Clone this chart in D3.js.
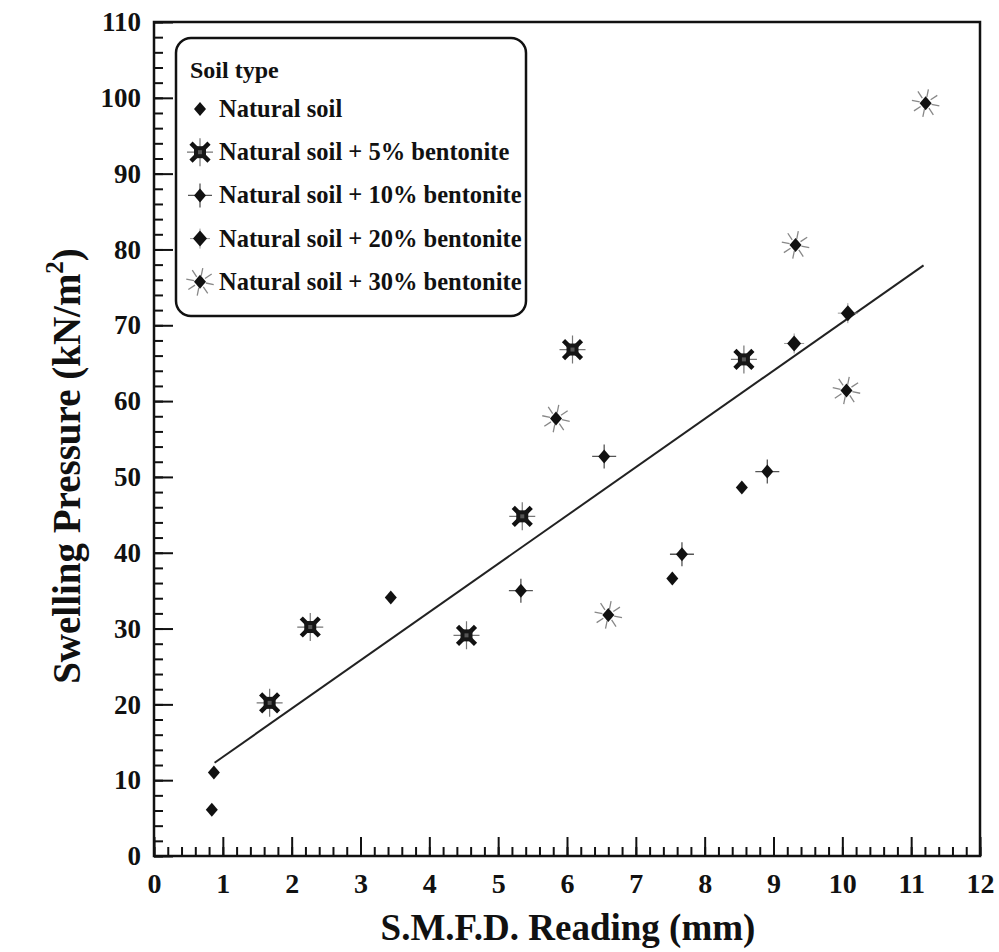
<!DOCTYPE html>
<html>
<head>
<meta charset="utf-8">
<script src="https://cdn.jsdelivr.net/npm/d3@7"></script>
<style>
    body { margin: 0; background: #fff; }
    text { font-family: "Liberation Serif", "Times New Roman", serif; font-weight: bold; fill: #111; }
</style>
</head>
<body>
<script>
//wrap everything in a self-executing anonymous function
(function(){

//data
var naturalX = [0.84, 0.87, 3.44, 7.53, 8.54];
var naturalY = [6.1, 11.0, 34.1, 36.6, 48.6];
var bent5X = [1.68, 2.27, 4.54, 5.35, 6.08, 8.57];
var bent5Y = [20.2, 30.2, 29.1, 44.8, 66.8, 65.5];
var bent10X = [5.33, 6.54, 7.67, 8.91];
var bent10Y = [35.0, 52.7, 39.8, 50.7];
var bent20X = [9.30, 10.08];
var bent20Y = [67.6, 71.6];
var bent30X = [5.84, 6.60, 9.32, 10.06, 11.21];
var bent30Y = [57.7, 31.8, 80.6, 61.4, 99.3];

//fitted line end points
var fitX = [0.88, 11.18];
var fitY = [12.3, 77.9];

var xTicks = [0, 1, 2, 3, 4, 5, 6, 7, 8, 9, 10, 11, 12];
var yTicks = [0, 10, 20, 30, 40, 50, 60, 70, 80, 90, 100, 110];

var seriesNames = ["Natural soil", "Natural soil + 5% bentonite", "Natural soil + 10% bentonite",
    "Natural soil + 20% bentonite", "Natural soil + 30% bentonite"];
var seriesKeys = ["nat", "b5", "b10", "b20", "b30"];

//frame
var width = 999,
    height = 952,
    left = 154, right = 980, top = 22, bottom = 856;

var svg = d3.select("body")
    .append("svg")
    .attr("width", width)
    .attr("height", height);

var x = d3.scaleLinear().domain([0, 12]).range([left, right]);
var y = d3.scaleLinear().domain([0, 110]).range([bottom, top]);

//minor ticks
var xMinor = d3.range(0, 12.001, 0.2).map(function(v){ return Math.round(v * 10) / 10; });
var yMinor = d3.range(0, 110.001, 2);

function styleTicks(g){
    g.select(".domain").remove();
    g.selectAll("line").attr("stroke", "#111").attr("stroke-width", 2);
}

//bottom axis, ticks point inward
svg.append("g")
    .attr("transform", "translate(0," + bottom + ")")
    .call(d3.axisBottom(x).tickValues(xMinor).tickSize(-9).tickFormat(""))
    .call(styleTicks);

svg.append("g")
    .attr("transform", "translate(0," + bottom + ")")
    .call(d3.axisBottom(x).tickValues(xTicks).tickSize(-19).tickPadding(17).tickFormat(d3.format("d")))
    .call(styleTicks)
    .call(function(g){
        g.selectAll("text").attr("font-size", 28).attr("font-family", "Liberation Serif").attr("font-weight", "bold").attr("fill", "#111");
    });

//left axis
svg.append("g")
    .attr("transform", "translate(" + left + ",0)")
    .call(d3.axisLeft(y).tickValues(yMinor).tickSize(-9).tickFormat(""))
    .call(styleTicks);

svg.append("g")
    .attr("transform", "translate(" + left + ",0)")
    .call(d3.axisLeft(y).tickValues(yTicks).tickSize(-19).tickPadding(13).tickFormat(d3.format("d")))
    .call(styleTicks)
    .call(function(g){
        g.selectAll("text").attr("font-size", 27).attr("font-family", "Liberation Serif").attr("font-weight", "bold").attr("fill", "#111");
    });

//plot frame
svg.append("rect")
    .attr("x", left).attr("y", top)
    .attr("width", right - left).attr("height", bottom - top)
    .attr("fill", "none").attr("stroke", "#111").attr("stroke-width", 2.5);

//fitted line
svg.append("path")
    .datum(d3.zip(fitX, fitY))
    .attr("d", d3.line().x(function(d){ return x(d[0]); }).y(function(d){ return y(d[1]); }))
    .attr("fill", "none").attr("stroke", "#222").attr("stroke-width", 2);

//marker drawing
var diamond = "M0,-7L6,0L0,7L-6,0Z";

function drawMarker(g, key){
    if (key == "nat"){
        g.append("path").attr("d", diamond).attr("fill", "#111");
    } else if (key == "b5"){
        g.append("path").attr("d", "M0,-14V14M-13,0H13").attr("stroke", "#777").attr("stroke-width", 1.2);
        g.append("path").attr("d", "M-9,-9L9,9M9,-9L-9,9").attr("stroke", "#111").attr("stroke-width", 4.5);
        g.append("rect").attr("x", -6).attr("y", -6).attr("width", 12).attr("height", 12).attr("fill", "#161616");
        g.append("rect").attr("x", -2).attr("y", -2).attr("width", 4).attr("height", 4).attr("fill", "#555");
    } else if (key == "b10"){
        g.append("path").attr("d", "M0,-12V12M-12,0H12").attr("stroke", "#555").attr("stroke-width", 1.3);
        g.append("path").attr("d", diamond).attr("fill", "#111");
    } else if (key == "b20"){
        g.append("path").attr("d", "M0,-10V10M-10,0H10").attr("stroke", "#999").attr("stroke-width", 1);
        g.append("path").attr("d", "M0,-8L7,0L0,8L-7,0Z").attr("fill", "#111");
    } else {
        var rays = d3.range(8).map(function(i){
            var a = i * Math.PI / 4 + 0.2;
            return "M" + (6 * Math.cos(a)) + "," + (6 * Math.sin(a)) + "L" + (14 * Math.cos(a)) + "," + (14 * Math.sin(a));
        }).join("");
        g.append("path").attr("d", rays).attr("stroke", "#888").attr("stroke-width", 1.3);
        g.append("path").attr("d", diamond).attr("fill", "#111");
    }
}

var seriesData = {
    nat: d3.zip(naturalX, naturalY),
    b5: d3.zip(bent5X, bent5Y),
    b10: d3.zip(bent10X, bent10Y),
    b20: d3.zip(bent20X, bent20Y),
    b30: d3.zip(bent30X, bent30Y)
};

seriesKeys.forEach(function(key){
    svg.selectAll(".pt-" + key)
        .data(seriesData[key])
        .enter()
        .append("g")
        .attr("class", "pt-" + key)
        .attr("transform", function(d){ return "translate(" + x(d[0]) + "," + y(d[1]) + ")"; })
        .each(function(){ drawMarker(d3.select(this), key); });
});

//legend
var legend = svg.append("g");
legend.append("rect")
    .attr("x", 176).attr("y", 38)
    .attr("width", 350).attr("height", 278)
    .attr("rx", 15).attr("ry", 15)
    .attr("fill", "#fff").attr("stroke", "#111").attr("stroke-width", 2.5);

legend.append("text")
    .attr("x", 190).attr("y", 78)
    .attr("font-size", 24)
    .text("Soil type");

var rows = legend.selectAll(".row")
    .data(seriesKeys)
    .enter()
    .append("g")
    .attr("class", "row")
    .attr("transform", function(d, i){ return "translate(200," + (109 + i * 43.2) + ")"; });

rows.each(function(d){ drawMarker(d3.select(this), d); });

rows.append("text")
    .attr("x", 19).attr("y", 8)
    .attr("font-size", 24.5)
    .text(function(d, i){ return seriesNames[i]; });

//axis titles
svg.append("text")
    .attr("x", 568).attr("y", 940)
    .attr("text-anchor", "middle")
    .attr("font-size", 37)
    .text("S.M.F.D. Reading (mm)");

var yTitle = svg.append("text")
    .attr("transform", "translate(80,466) rotate(-90)")
    .attr("text-anchor", "middle")
    .attr("font-size", 39);
yTitle.append("tspan").text("Swelling Pressure (kN/m");
yTitle.append("tspan").attr("font-size", 25).attr("dy", -17).text("2");
yTitle.append("tspan").attr("dy", 17).text(")");

})();
</script>
</body>
</html>
